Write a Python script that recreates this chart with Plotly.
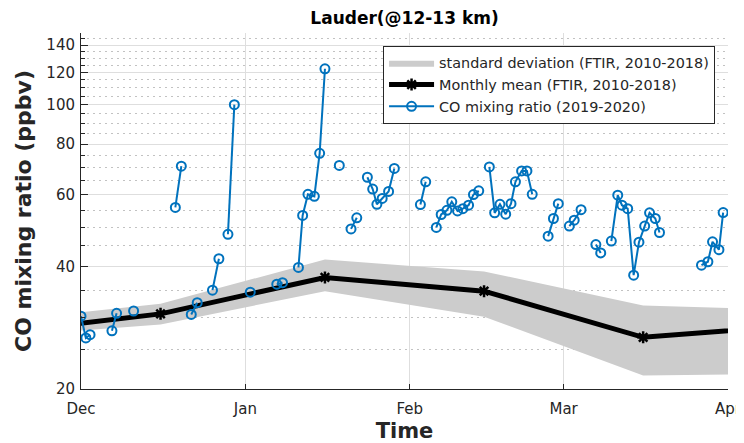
import plotly.graph_objects as go

# ---- Climatology (FTIR 2010-2018), mid-month values ----
clim_dates = ["2019-11-16", "2019-12-16", "2020-01-16", "2020-02-15", "2020-03-16", "2020-04-16"]
clim_mean = [27.5, 30.6, 37.6, 34.8, 26.8, 28.8]
clim_upper = [29.4, 32.4, 41.6, 38.9, 32.1, 31.2]
clim_lower = [26.9, 28.8, 34.8, 30.1, 21.6, 21.8]

# ---- CO mixing ratio 2019-2020 (None = gap in record) ----
co_dates = [
    "2019-12-01 00:00", "2019-12-01 22:00", "2019-12-02 17:00", None,
    "2019-12-06 20:00", "2019-12-07 17:00", None,
    "2019-12-10 22:00", None,
    "2019-12-18 19:00", "2019-12-19 22:00", None,
    "2019-12-21 19:00", "2019-12-22 22:00", None,
    "2019-12-25 19:00", "2019-12-27 00:00", None,
    "2019-12-28 17:00", "2019-12-29 22:00", None,
    "2020-01-01 22:00", None,
    "2020-01-06 22:00", "2020-01-08 00:00", None,
    "2020-01-11 00:00", "2020-01-11 19:00", "2020-01-12 19:00", "2020-01-14 00:00",
    "2020-01-15 00:00", "2020-01-16 00:00", None,
    "2020-01-18 17:00", None,
    "2020-01-20 22:00", "2020-01-22 00:00", None,
    "2020-01-24 00:00", "2020-01-25 00:00", "2020-01-25 19:00", "2020-01-26 19:00",
    "2020-01-28 00:00", "2020-01-29 02:00", None,
    "2020-02-03 00:00", "2020-02-04 00:00", None,
    "2020-02-06 00:00", "2020-02-06 22:00", "2020-02-08 00:00", "2020-02-08 22:00",
    "2020-02-10 00:00", "2020-02-11 00:00", "2020-02-12 02:00", "2020-02-13 00:00",
    "2020-02-14 00:00", None,
    "2020-02-16 00:00", "2020-02-17 00:00", "2020-02-18 00:00", "2020-02-19 02:00",
    "2020-02-20 02:00", "2020-02-20 22:00", "2020-02-22 02:00", "2020-02-23 02:00",
    "2020-02-24 02:00", None,
    "2020-02-27 02:00", "2020-02-28 02:00", "2020-02-29 00:00", None,
    "2020-03-02 02:00", "2020-03-03 00:00", "2020-03-04 07:00", None,
    "2020-03-07 02:00", "2020-03-08 00:00", None,
    "2020-03-10 00:00", "2020-03-11 05:00", "2020-03-12 00:00", "2020-03-13 02:00",
    "2020-03-14 05:00", "2020-03-15 05:00", "2020-03-16 07:00", "2020-03-17 05:00",
    "2020-03-18 07:00", "2020-03-19 02:00", None,
    "2020-03-27 00:00", "2020-03-28 05:00", "2020-03-29 02:00", "2020-03-30 07:00",
    "2020-03-31 02:00",
]
co_values = [
    30.2, 26.7, 27.2, None,
    27.8, 30.7, None,
    31.1, None,
    55.9, 70.6, None,
    30.5, 32.6, None,
    35.0, 41.8, None,
    48.0, 100.0, None,
    34.6, None,
    36.2, 36.5, None,
    39.8, 53.4, 60.2, 59.5,
    75.9, 122.5, None,
    70.9, None,
    49.5, 52.7, None,
    66.3, 62.0, 56.9, 58.8,
    61.2, 69.7, None,
    56.8, 64.6, None,
    49.9, 53.7, 55.0, 57.7,
    54.8, 55.5, 56.6, 60.1,
    61.4, None,
    70.3, 54.2, 56.9, 53.8,
    57.1, 64.6, 68.7, 68.7,
    60.2, None,
    47.5, 52.5, 57.1, None,
    50.3, 52.0, 55.2, None,
    45.3, 43.2, None,
    46.2, 59.9, 56.6, 55.5,
    38.1, 45.9, 50.3, 54.2,
    52.5, 48.5, None,
    40.3, 41.1, 46.0, 44.0,
    54.3,
]

# ---- Axis ticks ----
x_tick_dates = ["2019-12-01", "2020-01-01", "2020-02-01", "2020-03-01", "2020-04-01"]
x_tick_labels = ["Dec", "Jan", "Feb", "Mar", "Apr"]
y_tick_vals = [20, 40, 60, 80, 100, 120, 140]
y_minor_vals = [v for v in range(25, 151, 5) if v not in y_tick_vals]

FONT = "DejaVu Sans"
AX = "#262626"
BLUE = "#0072BD"

# page body has an 8px margin: figure is sized/placed to compensate
W, H = 736, 435

fig = go.Figure()

fig.add_trace(go.Scatter(
    x=clim_dates + clim_dates[::-1],
    y=clim_upper + clim_lower[::-1],
    fill="toself", fillcolor="#cccccc",
    line=dict(width=0, color="#cccccc"),
    mode="lines", hoverinfo="skip",
    name="standard deviation (FTIR, 2010-2018)",
))

fig.add_trace(go.Scatter(
    x=clim_dates, y=clim_mean,
    mode="lines+markers",
    line=dict(color="black", width=5),
    marker=dict(symbol="asterisk-open", size=10, color="black",
                line=dict(color="black", width=2.5)),
    name="Monthly mean (FTIR, 2010-2018)",
))

fig.add_trace(go.Scatter(
    x=co_dates, y=co_values,
    mode="lines+markers", connectgaps=False,
    line=dict(color=BLUE, width=2),
    marker=dict(symbol="circle-open", size=9, color=BLUE,
                line=dict(color=BLUE, width=2)),
    name="CO mixing ratio (2019-2020)",
))

fig.update_layout(
    width=W, height=H,
    margin=dict(l=73, r=16, t=25, b=54, pad=0),
    paper_bgcolor="white", plot_bgcolor="white",
    font=dict(family=FONT, size=15, color=AX),
    title=dict(text="<b>Lauder(@12-13 km)</b>", x=0.5, xref="paper", xanchor="center",
               y=1 - 10 / H, yref="container", yanchor="middle",
               font=dict(family=FONT, size=17, color="black")),
    showlegend=True,
    legend=dict(x=0.980, xanchor="right", y=0.9635, yanchor="top",
                bgcolor="white", bordercolor=AX, borderwidth=1,
                font=dict(family=FONT, size=14.4, color=AX),
                itemwidth=45, tracegroupgap=0),
)

fig.update_xaxes(
    type="date",
    range=["2019-12-01", "2020-04-01"],
    tickmode="array", tickvals=x_tick_dates, ticktext=x_tick_labels,
    ticks="inside", ticklen=5, tickcolor=AX, tickwidth=1,
    ticklabelstandoff=6, ticklabeloverflow="allow",
    showline=True, linecolor=AX, linewidth=1, mirror=False,
    showgrid=True, gridcolor="#dedede", gridwidth=1,
    zeroline=False,
    tickfont=dict(family=FONT, size=15, color=AX),
    title=dict(text="<b>Time</b>", font=dict(family=FONT, size=21, color=AX), standoff=7),
    automargin=False,
)

fig.update_yaxes(
    type="log",
    range=[1.30103, 2.176091],
    tickmode="array", tickvals=y_tick_vals, ticktext=[str(v) for v in y_tick_vals],
    ticks="inside", ticklen=7, tickcolor=AX, tickwidth=1,
    ticklabelstandoff=2,
    showline=True, linecolor=AX, linewidth=1, mirror=False,
    showgrid=True, gridcolor="#dedede", gridwidth=1,
    zeroline=False,
    minor=dict(tickmode="array", tickvals=y_minor_vals, ticks="inside", ticklen=4,
               tickcolor=AX, showgrid=True, gridcolor="#c2c2c2",
               griddash="1.5px,4.5px", gridwidth=1),
    tickfont=dict(family=FONT, size=15, color=AX),
    title=dict(text="<b>CO mixing ratio (ppbv)</b>", font=dict(family=FONT, size=22, color=AX), standoff=8),
    automargin=False,
)

fig.write_html("out.html")
